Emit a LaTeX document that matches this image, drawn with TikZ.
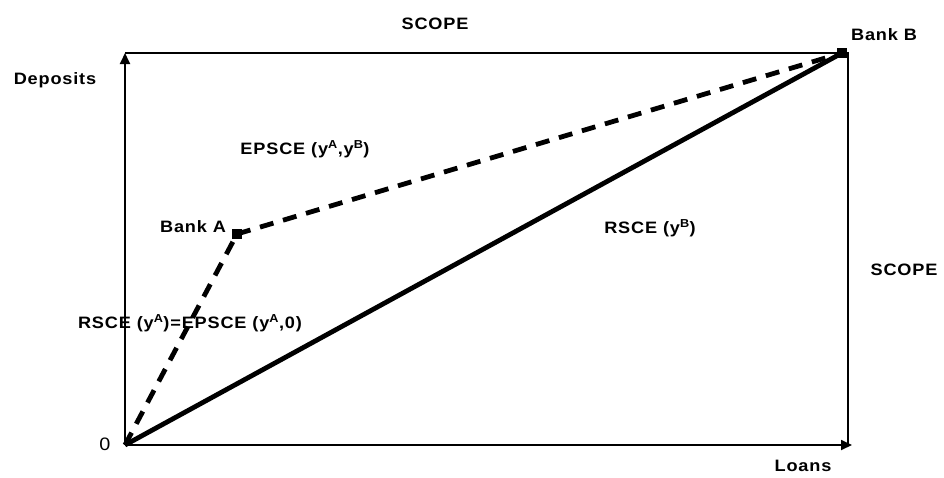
\documentclass[tikz,border=0pt]{standalone}
\usepackage{fontspec}
\setmainfont{Liberation Sans}[FakeStretch=1.1,LetterSpace=5]
\usetikzlibrary{arrows.meta}
\begin{document}
\begin{tikzpicture}[x=1pt,y=-1pt,
  lbl/.style={font=\fontsize{16.5}{19}\selectfont\bfseries, inner sep=0pt},
  axis/.style={line width=1.8pt},
  tip/.style={-{Triangle[length=11pt,width=10pt]}},
  marker/.style={fill=black, minimum size=10pt, inner sep=0pt},
  dashline/.style={line width=4.8pt, dash pattern=on 14pt off 10pt},
  solidline/.style={line width=4.8pt}]
\useasboundingbox (0,0) rectangle (944,477);
% corners
\coordinate (O) at (125,445);
\coordinate (TL) at (125,53);
\coordinate (TR) at (848,53);
\coordinate (BR) at (852,445);
\coordinate (RB) at (848,445);
% axes and box
\draw[axis, tip] (O) -- (TL);
\draw[axis] (TL) -- (TR) -- (RB);
\draw[axis, tip] (O) -- (BR);
% points
\node[marker] (A) at (237,234) {};
\node[marker] (B) at (842,53) {};
% lines
\draw[solidline] (O) -- (B.center);
\draw[dashline] (O) -- (A.center);
\draw[dashline] (A.center) -- (B.center);
% labels
\node[lbl] (scopetop) at (435,24) {SCOPE};
\node[lbl] (dep) at (55,80) {Deposits};
\node[lbl] (bankb) at (884,35) {Bank B};
\node[lbl] (epsce) at (305,149) {EPSCE (y\textsuperscript{A},y\textsuperscript{B})};
\node[lbl] (banka) at (193,227) {Bank A};
\node[lbl] (rsceb) at (650,228) {RSCE (y\textsuperscript{B})};
\node[lbl] (scoperight) at (904,270) {SCOPE};
\node[lbl] (rscea) at (190,323) {RSCE (y\textsuperscript{A})=EPSCE (y\textsuperscript{A},0)};
\node[lbl, font=\fontsize{18}{20}\selectfont] (zero) at (105,444) {0};
\node[lbl] (loans) at (803,466) {Loans};
\end{tikzpicture}
\end{document}
